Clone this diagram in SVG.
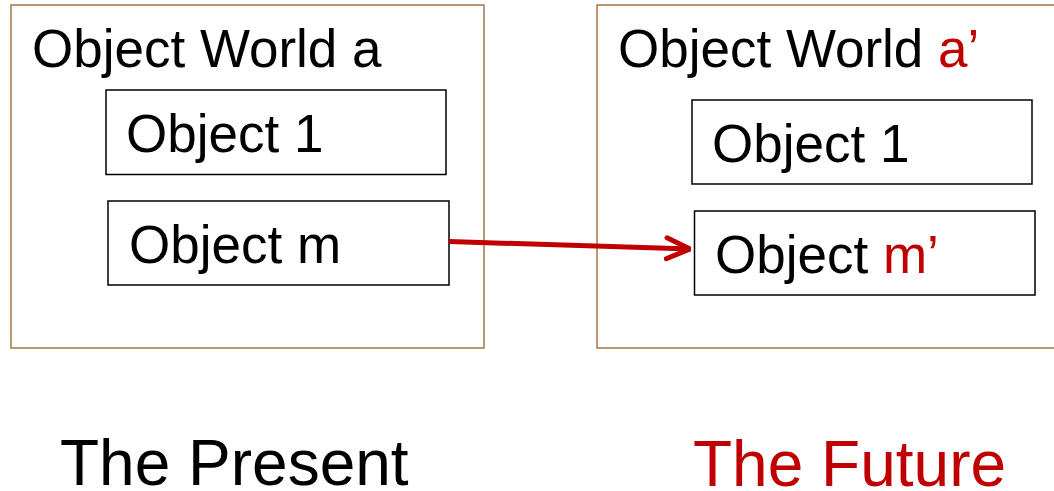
<svg xmlns="http://www.w3.org/2000/svg" width="1054" height="491" viewBox="0 0 1054 491">
<style>
.world{fill:#fff;stroke:#A5754A;stroke-width:1.5}
.obj{fill:#fff;stroke:#000;stroke-width:1.5}
text{font-family:"Liberation Sans",Arial,sans-serif;fill:#000}
.t{font-size:53px}
.big{font-size:64px}
.red{fill:#C00000}
</style>
<defs>
<marker id="ah" viewBox="0 0 10 10" refX="9.5" refY="5" markerWidth="5.5" markerHeight="5.5" markerUnits="strokeWidth" orient="auto">
<path d="M1,1.2 L9.5,5 L1,8.8" fill="none" stroke="#C00000" stroke-width="1.8" stroke-linecap="round" stroke-linejoin="round"/>
</marker>
</defs>
<rect width="1054" height="491" fill="#fff"/>
<g id="world-a">
<rect class="world" x="11" y="5" width="473" height="343"/>
<text class="t" x="32" y="67">Object World a</text>
</g>
<g id="world-a2">
<rect class="world" x="597" y="5" width="470" height="343"/>
<text class="t" x="618" y="67">Object World <tspan class="red">a’</tspan></text>
</g>
<g id="obj1-a">
<rect class="obj" x="106" y="90" width="340" height="84.5"/>
<text class="t" x="126" y="152">Object 1</text>
</g>
<g id="objm-a">
<rect class="obj" x="108" y="201" width="341" height="84"/>
<text class="t" x="129" y="263">Object m</text>
</g>
<g id="obj1-a2">
<rect class="obj" x="692" y="100" width="340" height="84"/>
<text class="t" x="712" y="161.5">Object 1</text>
</g>
<g id="objm-a2">
<rect class="obj" x="694.5" y="211" width="340.5" height="84"/>
<text class="t" x="715" y="272.5">Object <tspan class="red">m’</tspan></text>
</g>
<g id="connectors">
<line x1="449" y1="241.5" x2="690" y2="249" stroke="#C00000" stroke-width="5" marker-end="url(#ah)"/>
</g>
<g id="labels">
<text class="big" x="60" y="485">The Present</text>
<text class="big red" x="693" y="485.5">The Future</text>
</g>
</svg>
